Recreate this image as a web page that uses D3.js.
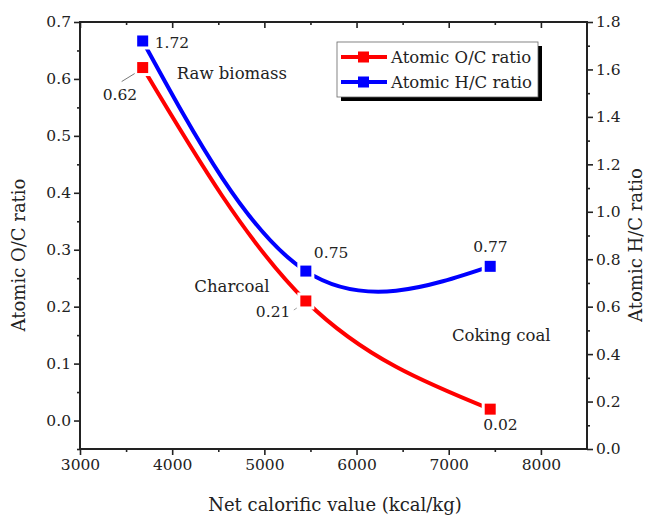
<!DOCTYPE html>
<html>
<head>
<meta charset="utf-8">
<script src="https://cdn.jsdelivr.net/npm/d3@7"></script>
<style>
  body { margin: 0; background: #fff; }
  svg text { font-family: "DejaVu Serif", serif; fill: #222; }
</style>
</head>
<body>
<div id="chart"></div>
<script>
// data
const calorific = [3680, 5450, 7450]
const ocRatio = [0.62, 0.21, 0.02]
const hcRatio = [1.72, 0.75, 0.77]
const ocLabels = ["0.62", "0.21", "0.02"]
const hcLabels = ["1.72", "0.75", "0.77"]
const regionNames = ["Raw biomass", "Charcoal", "Coking coal"]
const regionX = [4050, 4240, 7035]
const regionY = [0.60, 0.225, 0.14]
const xTicks = [3000, 4000, 5000, 6000, 7000, 8000]
const leftTicks = [0, 0.1, 0.2, 0.3, 0.4, 0.5, 0.6, 0.7]
const rightTicks = [0, 0.2, 0.4, 0.6, 0.8, 1.0, 1.2, 1.4, 1.6, 1.8]

const width = 650, height = 517
const margin = {top: 22, right: 63, bottom: 68, left: 80}
const tickFont = "15.5px", noteFont = "16.5px", titleFont = "18px"

const svg = d3.select("#chart").append("svg")
    .attr("width", width)
    .attr("height", height)

const x = d3.scaleLinear().domain([3000, 8500]).range([margin.left, width - margin.right])
const yL = d3.scaleLinear().domain([-0.05, 0.7]).range([height - margin.bottom, margin.top])
const yR = d3.scaleLinear().domain([0, 1.8]).range([height - margin.bottom, margin.top])

const bottom = height - margin.bottom, right = width - margin.right

// axes
const fmt1 = d3.format(".1f")
svg.append("g")
    .attr("transform", `translate(0,${bottom})`)
    .call(d3.axisBottom(x).tickValues(xTicks).tickSize(6).tickPadding(4).tickFormat(d3.format("d")))
svg.append("g")
    .attr("transform", `translate(0,${bottom})`)
    .call(d3.axisBottom(x).tickValues(d3.range(3500, 8500, 1000)).tickSize(3).tickFormat(""))
svg.append("g")
    .attr("transform", `translate(0,${margin.top})`)
    .call(d3.axisBottom(x).tickValues(xTicks).tickSize(6).tickFormat(""))
svg.append("g")
    .attr("transform", `translate(0,${margin.top})`)
    .call(d3.axisBottom(x).tickValues(d3.range(3500, 8500, 1000)).tickSize(3).tickFormat(""))

svg.append("g")
    .attr("transform", `translate(${margin.left},0)`)
    .call(d3.axisLeft(yL).tickValues(leftTicks).tickSize(6).tickPadding(3).tickFormat(fmt1))
svg.append("g")
    .attr("transform", `translate(${margin.left},0)`)
    .call(d3.axisLeft(yL).tickValues(d3.range(-0.05, 0.7, 0.1)).tickSize(3).tickFormat(""))

svg.append("g")
    .attr("transform", `translate(${right},0)`)
    .call(d3.axisRight(yR).tickValues(rightTicks).tickSize(6).tickPadding(3).tickFormat(fmt1))
svg.append("g")
    .attr("transform", `translate(${right},0)`)
    .call(d3.axisRight(yR).tickValues(d3.range(0.1, 1.8, 0.2)).tickSize(3).tickFormat(""))

svg.selectAll(".domain").remove()
svg.selectAll(".tick line").attr("stroke", "#222").attr("stroke-width", 1.6)
svg.selectAll(".tick text").style("font-size", tickFont).attr("fill", "#222")

svg.append("rect")
    .attr("x", margin.left)
    .attr("y", margin.top)
    .attr("width", right - margin.left)
    .attr("height", bottom - margin.top)
    .attr("fill", "none")
    .attr("stroke", "#222")
    .attr("stroke-width", 2)

// axis titles
svg.append("text")
    .attr("x", 335)
    .attr("y", 511)
    .attr("text-anchor", "middle")
    .style("font-size", titleFont)
    .text("Net calorific value (kcal/kg)")
svg.append("text")
    .attr("transform", "translate(25,255) rotate(-90)")
    .attr("text-anchor", "middle")
    .style("font-size", titleFont)
    .text("Atomic O/C ratio")
svg.append("text")
    .attr("transform", "translate(642,245) rotate(-90)")
    .attr("text-anchor", "middle")
    .style("font-size", titleFont)
    .text("Atomic H/C ratio")

// series
const series = [
    {name: "Atomic O/C ratio", color: "#ff0000", values: ocRatio, labels: ocLabels, y: yL,
     dx: [-40, -50, -7], dy: [32, 16, 21]},
    {name: "Atomic H/C ratio", color: "#0000ff", values: hcRatio, labels: hcLabels, y: yR,
     dx: [12, 8, -17], dy: [7, -13, -14]}
]

const line = d3.line().curve(d3.curveNatural)

series.forEach(s => {
    const pts = calorific.map((c, i) => [x(c), s.y(s.values[i])])
    svg.append("path")
        .attr("d", line(pts))
        .attr("fill", "none")
        .attr("stroke", s.color)
        .attr("stroke-width", 4)
    // white halo to leave the gap round each marker
    svg.selectAll(null).data(pts).join("rect")
        .attr("x", d => d[0] - 8.5).attr("y", d => d[1] - 8.5)
        .attr("width", 17).attr("height", 17)
        .attr("fill", "#fff")
    svg.selectAll(null).data(pts).join("rect")
        .attr("x", d => d[0] - 5.5).attr("y", d => d[1] - 5.5)
        .attr("width", 11).attr("height", 11)
        .attr("fill", s.color)
    svg.selectAll(null).data(pts).join("text")
        .attr("x", (d, i) => d[0] + s.dx[i])
        .attr("y", (d, i) => d[1] + s.dy[i])
        .style("font-size", tickFont)
        .text((d, i) => s.labels[i])
})

// leaders from labels to their markers
const p0 = [x(calorific[0]), yL(ocRatio[0])]
svg.append("line")
    .attr("x1", p0[0] - 21).attr("y1", p0[1] + 14)
    .attr("x2", p0[0] - 8).attr("y2", p0[1] + 6)
    .attr("stroke", "#555").attr("stroke-width", 0.8)
const p1 = [x(calorific[1]), yL(ocRatio[1])]
svg.append("line")
    .attr("x1", p1[0] - 12).attr("y1", p1[1] + 9)
    .attr("x2", p1[0] - 9).attr("y2", p1[1] + 7)
    .attr("stroke", "#888").attr("stroke-width", 0.8)

// region names
svg.selectAll(".region").data(regionNames).join("text")
    .attr("class", "region")
    .attr("x", (d, i) => x(regionX[i]))
    .attr("y", (d, i) => yL(regionY[i]))
    .style("font-size", noteFont)
    .text(d => d)

// legend
const lg = svg.append("g").attr("transform", "translate(337,42)")
lg.append("rect").attr("x", 4).attr("y", 4).attr("width", 201).attr("height", 55).attr("fill", "#000")
lg.append("rect").attr("width", 201).attr("height", 55).attr("fill", "#fff").attr("stroke", "#666").attr("stroke-width", 0.8)
series.forEach((s, i) => {
    const row = lg.append("g").attr("transform", `translate(0,${15 + i * 25})`)
    row.append("line").attr("x1", 4).attr("x2", 50).attr("stroke", s.color).attr("stroke-width", 4)
    row.append("rect").attr("x", 21).attr("y", -5.5).attr("width", 11).attr("height", 11).attr("fill", s.color)
    row.append("text").attr("x", 54).attr("y", 6).style("font-size", noteFont).text(s.name)
})
</script>
</body>
</html>
